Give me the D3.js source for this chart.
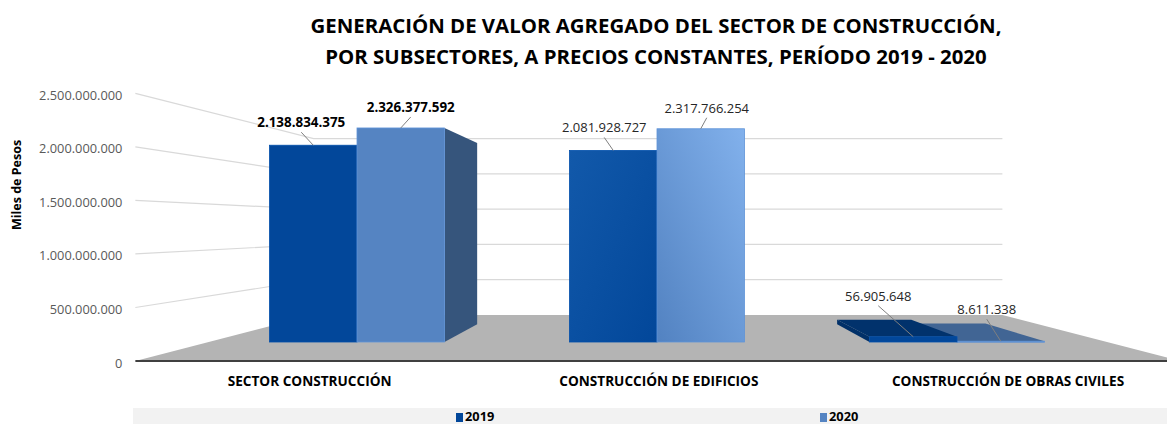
<!DOCTYPE html>
<html>
  <head>
    <meta charset="utf-8">
    <title>Valor agregado construcción</title>
    <script type="text/javascript" src="https://cdnjs.cloudflare.com/ajax/libs/d3/7.8.5/d3.min.js"></script>
    <style type="text/css">
      body { margin: 0; background: #fff; }
      svg { display: block; font-family: "Open Sans", "Noto Sans", sans-serif; }
    </style>
  </head>
  <body>
    <script>

      // data (miles de pesos)
      var categories = ["SECTOR CONSTRUCCIÓN", "CONSTRUCCIÓN DE EDIFICIOS", "CONSTRUCCIÓN DE OBRAS CIVILES"];
      var series = ["2019", "2020"];
      var values2019 = [2138834375, 2081928727, 56905648];
      var values2020 = [2326377592, 2317766254, 8611338];
      var yTicks = [0, 500000000, 1000000000, 1500000000, 2000000000, 2500000000];

      var w = 1167, h = 424;

      // fake 3D: one point perspective, k = scale factor of a depth plane
      var VX = 658, VY = 226;
      var kBarBack = 0.847, kWall = 0.767, kFloor = 1.164;
      var wallL = 209, wallR = 1107;

      function proj(x, y, k) {
        return [VX + (x - VX) * k, VY + (y - VY) * k];
      }
      function poly(pts) {
        return pts.map(function(p) { return p.join(","); }).join(" ");
      }

      var fmt = d3.formatLocale({decimal: ",", thousands: ".", grouping: [3], currency: ["$", ""]}).format(",d");

      var colors = d3.scaleOrdinal().domain(series).range(["#02479a", "#5584c2"]);

      var x0 = d3.scaleBand()
                 .domain(categories)
                 .range([207, 1107])
                 .paddingInner(5 / 12)
                 .paddingOuter(5 / 24);
      var x1 = d3.scaleBand()
                 .domain(series)
                 .range([0, x0.bandwidth()]);
      var y = d3.scaleLinear()
                .domain([0, 2500000000])
                .range([342, 112]);

      var svg = d3.select("body")
                  .append("svg")
                  .attr("width", w)
                  .attr("height", h);

      var defs = svg.append("defs");
      var g1 = defs.append("linearGradient").attr("id", "grad2019")
                   .attr("x1", 0).attr("y1", 0).attr("x2", 1).attr("y2", 1);
      g1.append("stop").attr("offset", 0).attr("stop-color", "#1259aa");
      g1.append("stop").attr("offset", 1).attr("stop-color", "#02479a");
      var g2 = defs.append("linearGradient").attr("id", "grad2020")
                   .attr("x1", 0).attr("y1", 1).attr("x2", 1).attr("y2", 0);
      g2.append("stop").attr("offset", 0).attr("stop-color", "#5282c1");
      g2.append("stop").attr("offset", 1).attr("stop-color", "#82b1ec");

      // Title
      var title = svg.append("text")
                     .attr("text-anchor", "middle")
                     .attr("font-weight", "bold")
                     .attr("font-size", 20.4)
                     .attr("fill", "#000");
      title.append("tspan").attr("x", 656).attr("y", 33)
           .text("GENERACIÓN DE VALOR AGREGADO DEL SECTOR DE CONSTRUCCIÓN,");
      title.append("tspan").attr("x", 656).attr("y", 64)
           .text("POR SUBSECTORES, A PRECIOS CONSTANTES, PERÍODO 2019 - 2020");

      // gridlines: left wall + back wall
      svg.append("g")
         .selectAll("polyline")
         .data(yTicks.filter(function(d) { return d > 0; }))
         .enter()
         .append("polyline")
         .attr("points", function(d) {
            return poly([proj(wallL, y(d), kFloor), proj(wallL, y(d), kWall), proj(wallR, y(d), kWall)]);
         })
         .attr("fill", "none")
         .attr("stroke", "#d9d9d9")
         .attr("stroke-width", 1.2);

      // floor
      svg.append("polygon")
         .attr("points", poly([proj(wallL, y(0), kFloor), proj(wallL, y(0), kWall),
                               proj(wallR, y(0), kWall), proj(wallR, y(0), kFloor)]))
         .attr("fill", "#b4b4b4");

      // axis line (front edge of floor)
      var f0 = proj(wallL, y(0), kFloor), f1 = proj(wallR, y(0), kFloor);
      svg.append("line")
         .attr("x1", f0[0]).attr("y1", f0[1])
         .attr("x2", f1[0]).attr("y2", f1[1])
         .attr("stroke", "#404040")
         .attr("stroke-width", 2);

      // tick labels
      svg.append("g")
         .selectAll("text")
         .data(yTicks)
         .enter()
         .append("text")
         .attr("x", proj(wallL, 0, kFloor)[0] - 13)
         .attr("y", function(d) { return proj(wallL, y(d), kFloor)[1] + 2; })
         .attr("dy", "0.35em")
         .attr("text-anchor", "end")
         .attr("font-size", 12.8)
         .attr("fill", "#595959")
         .text(function(d) { return fmt(d); });

      // y axis title
      svg.append("text")
         .attr("transform", "translate(21,185) rotate(-90)")
         .attr("text-anchor", "middle")
         .attr("font-weight", "bold")
         .attr("font-size", 12.5)
         .attr("fill", "#000")
         .text("Miles de Pesos");

      // category labels
      svg.append("g")
         .selectAll("text")
         .data(categories)
         .enter()
         .append("text")
         .attr("x", function(d) { return proj(x0(d) + x0.bandwidth() / 2, 0, kFloor)[0] + 2; })
         .attr("y", 386)
         .attr("text-anchor", "middle")
         .attr("font-weight", "bold")
         .attr("font-size", 13.6)
         .attr("fill", "#000")
         .text(function(d) { return d; });

      // bars
      var bars = [];
      categories.forEach(function(c, i) {
        bars.push({cat: c, ci: i, s: "2019", v: values2019[i]});
        bars.push({cat: c, ci: i, s: "2020", v: values2020[i]});
      });
      bars.forEach(function(d) {
        d.xl = x0(d.cat) + x1(d.s);
        d.xr = d.xl + x1.bandwidth();
        d.yt = y(d.v);
        d.yb = y(0);
        d.cx = (d.xl + d.xr) / 2;
      });
      // paint the ones far from the vanishing point first
      var order = bars.slice().sort(function(a, b) {
        return Math.abs(b.cx - VX) - Math.abs(a.cx - VX);
      });

      var barG = svg.append("g");
      order.forEach(function(d) {
        var base = d3.color(colors(d.s));
        var g = barG.append("g");
        if (d.xr < VX - 0.5) {
          g.append("polygon")
           .attr("points", poly([proj(d.xr, d.yt, 1), proj(d.xr, d.yt, kBarBack),
                                 proj(d.xr, d.yb, kBarBack), proj(d.xr, d.yb, 1)]))
           .attr("fill", base.darker(1.25));
        }
        if (d.xl > VX + 0.5) {
          g.append("polygon")
           .attr("points", poly([proj(d.xl, d.yt, 1), proj(d.xl, d.yt, kBarBack),
                                 proj(d.xl, d.yb, kBarBack), proj(d.xl, d.yb, 1)]))
           .attr("fill", base.darker(1.1));
        }
        if (d.yt > VY) {
          g.append("polygon")
           .attr("points", poly([proj(d.xl, d.yt, 1), proj(d.xr, d.yt, 1),
                                 proj(d.xr, d.yt, kBarBack), proj(d.xl, d.yt, kBarBack)]))
           .attr("fill", base.darker(d.s === "2019" ? 1 : 0.75));
        }
        g.append("rect")
         .attr("x", d.xl)
         .attr("y", d.yt)
         .attr("width", d.xr - d.xl)
         .attr("height", Math.max(1, d.yb - d.yt))
         .attr("fill", d.ci === 1 ? "url(#grad" + d.s + ")" : base)
         .attr("stroke", base.brighter(0.3))
         .attr("stroke-width", 0.8);
      });

      // data labels, moved by hand in the original
      var labelNudge = [[[-12, -18], [10, -16]], [[-9, -18], [6, -16]], [[-35, -36], [-14, -27]]];
      var lab = svg.append("g");
      bars.forEach(function(d) {
        var n = labelNudge[d.ci][series.indexOf(d.s)];
        var lx = d.cx + n[0], ly = d.yt + n[1];
        lab.append("line")
           .attr("x1", lx).attr("y1", ly + 5)
           .attr("x2", d.cx).attr("y2", d.yt)
           .attr("stroke", "#7f7f7f")
           .attr("stroke-width", 1);
        lab.append("text")
           .attr("x", lx)
           .attr("y", ly)
           .attr("text-anchor", "middle")
           .attr("font-size", d.ci === 0 ? 13.4 : 13)
           .attr("font-weight", d.ci === 0 ? "bold" : "normal")
           .attr("fill", d.ci === 0 ? "#000" : "#262626")
           .text(fmt(d.v));
      });

      // legend
      svg.append("rect")
         .attr("x", 133).attr("y", 408)
         .attr("width", w - 133).attr("height", 16)
         .attr("fill", "#f2f2f2");
      var lx = d3.scalePoint().domain(series).range([456, 820]);
      var leg = svg.append("g")
                   .selectAll("g")
                   .data(series)
                   .enter()
                   .append("g")
                   .attr("transform", function(d) { return "translate(" + lx(d) + ",0)"; });
      leg.append("rect")
         .attr("x", 0).attr("y", 413)
         .attr("width", 7).attr("height", 9)
         .attr("fill", function(d) { return colors(d); });
      leg.append("text")
         .attr("x", 9).attr("y", 421)
         .attr("font-size", 12.8)
         .attr("font-weight", "bold")
         .attr("fill", "#000")
         .text(function(d) { return d; });

    </script>
  </body>
</html>
